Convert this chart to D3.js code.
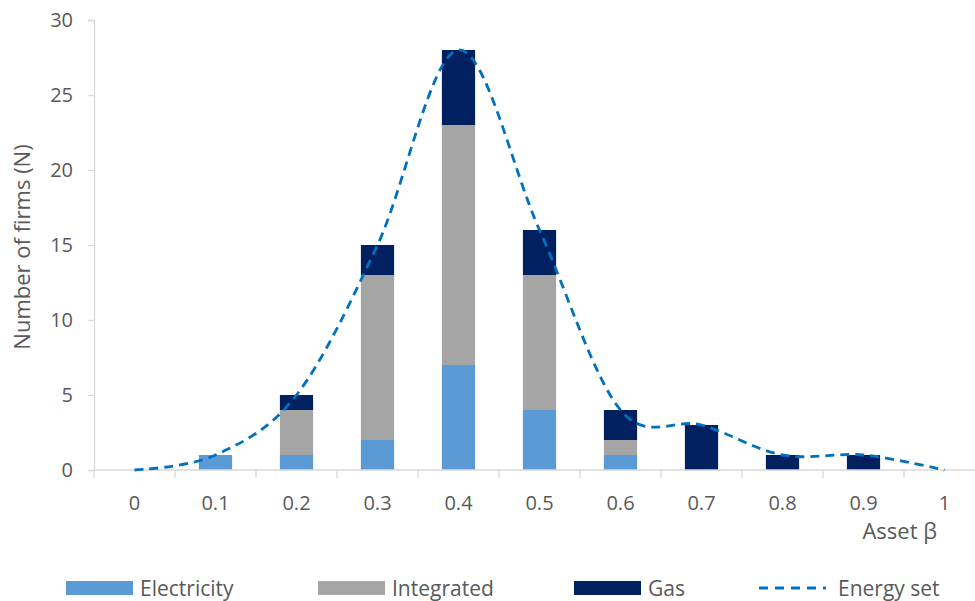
<!DOCTYPE html>
<html>
<head>
<meta charset="utf-8">
<script src="https://cdn.jsdelivr.net/npm/d3@7"></script>
<style>
  html, body { margin: 0; padding: 0; background: #fff; }
  svg { display: block; font-family: "Open Sans", "Segoe UI", sans-serif; }
</style>
</head>
<body>
<svg id="chart" width="975" height="601"></svg>
<script>
// Asset beta buckets and firm counts per sector
const categories = ["0", "0.1", "0.2", "0.3", "0.4", "0.5", "0.6", "0.7", "0.8", "0.9", "1"];
const electricity = [0, 1, 1, 2, 7, 4, 1, 0, 0, 0, 0];
const integrated  = [0, 0, 3, 11, 16, 9, 1, 0, 0, 0, 0];
const gas         = [0, 0, 1, 2, 5, 3, 2, 3, 1, 1, 0];
const energySet   = [0, 1, 5, 15, 28, 16, 4, 3, 1, 1, 0];
const yTicks = [0, 5, 10, 15, 20, 25, 30];

const seriesNames = ["Electricity", "Integrated", "Gas"];
const seriesColors = { Electricity: "#5B9BD5", Integrated: "#A5A5A5", Gas: "#002060" };
const lineColor = "#0070C0";
const textColor = "#595959";
const axisColor = "#D9D9D9";
const fontFamily = "'Open Sans', 'Segoe UI', sans-serif";

const svg = d3.select("#chart");
const margin = { left: 94, top: 20, bottom: 131 };
const plotBottom = 601 - margin.bottom;

const x = d3.scaleBand()
  .domain(categories)
  .range([margin.left, margin.left + 81 * categories.length])
  .paddingInner(0.59)
  .paddingOuter(0.295);

const xTicks = d3.scaleBand().domain(categories).range(x.range());

const y = d3.scaleLinear().domain([0, 30]).range([plotBottom, margin.top]);

// Stack table built from the series arrays
const table = categories.map((c, i) => ({
  cat: c, Electricity: electricity[i], Integrated: integrated[i], Gas: gas[i]
}));
const stacked = d3.stack().keys(seriesNames)(table);

// Bars
svg.append("g").selectAll("g")
  .data(stacked)
  .join("g")
  .attr("fill", d => seriesColors[d.key])
  .selectAll("rect")
  .data(d => d)
  .join("rect")
  .attr("x", d => x(d.data.cat))
  .attr("width", x.bandwidth())
  .attr("y", d => y(d[1]))
  .attr("height", d => y(d[0]) - y(d[1]));

// Y axis
const yAxis = svg.append("g")
  .attr("transform", `translate(${margin.left},0)`)
  .call(d3.axisLeft(y).tickValues(yTicks).tickSize(6).tickPadding(15))
  .attr("font-family", fontFamily);
yAxis.select(".domain").attr("stroke", axisColor).attr("stroke-width", 1.3);
yAxis.selectAll(".tick line").attr("stroke", axisColor).attr("stroke-width", 1.3);
yAxis.selectAll(".tick text").attr("fill", textColor).attr("font-size", 20);

// X axis: baseline with boundary ticks between categories
const xAxisG = svg.append("g");
xAxisG.append("line")
  .attr("x1", margin.left).attr("x2", 975)
  .attr("y1", plotBottom).attr("y2", plotBottom)
  .attr("stroke", axisColor).attr("stroke-width", 1.3);
xAxisG.selectAll("line.bound")
  .data(categories)
  .join("line")
  .attr("class", "bound")
  .attr("x1", d => xTicks(d)).attr("x2", d => xTicks(d))
  .attr("y1", plotBottom).attr("y2", plotBottom + 8)
  .attr("stroke", axisColor).attr("stroke-width", 1.3);
xAxisG.selectAll("text")
  .data(categories)
  .join("text")
  .attr("x", d => xTicks(d) + xTicks.bandwidth() / 2)
  .attr("y", 510)
  .attr("text-anchor", "middle")
  .attr("fill", textColor)
  .attr("font-size", 20)
  .text(d => d);

// Smoothed dashed line for the whole energy set
const line = d3.line()
  .x((d, i) => x(categories[i]) + x.bandwidth() / 2)
  .y(d => y(d))
  .curve(d3.curveCardinal.tension(0));
svg.append("path")
  .datum(energySet)
  .attr("d", line)
  .attr("fill", "none")
  .attr("stroke", lineColor)
  .attr("stroke-width", 2.8)
  .attr("stroke-dasharray", "9,6");

// Axis titles
svg.append("text")
  .attr("transform", `translate(30,247) rotate(-90)`)
  .attr("text-anchor", "middle")
  .attr("fill", textColor)
  .attr("font-size", 22)
  .text("Number of firms (N)");
svg.append("text")
  .attr("x", 937).attr("y", 539)
  .attr("text-anchor", "end")
  .attr("fill", textColor)
  .attr("font-size", 22)
  .text("Asset β");

// Legend
const legendItems = [
  { name: "Electricity", x: 66, type: "rect" },
  { name: "Integrated", x: 318, type: "rect" },
  { name: "Gas", x: 574, type: "rect" },
  { name: "Energy set", x: 759, type: "line" }
];
const legend = svg.append("g");
legendItems.forEach(item => {
  const g = legend.append("g");
  if (item.type === "rect") {
    g.append("rect")
      .attr("x", item.x).attr("y", 581)
      .attr("width", 67).attr("height", 14)
      .attr("fill", seriesColors[item.name]);
  } else {
    g.append("line")
      .attr("x1", item.x).attr("x2", item.x + 67)
      .attr("y1", 588).attr("y2", 588)
      .attr("stroke", lineColor).attr("stroke-width", 2.8)
      .attr("stroke-dasharray", "9,7");
  }
  g.append("text")
    .attr("x", item.x + (item.type === "rect" ? 74 : 79))
    .attr("y", 596)
    .attr("fill", textColor)
    .attr("font-size", 21)
    .text(item.name);
});
</script>
</body>
</html>
